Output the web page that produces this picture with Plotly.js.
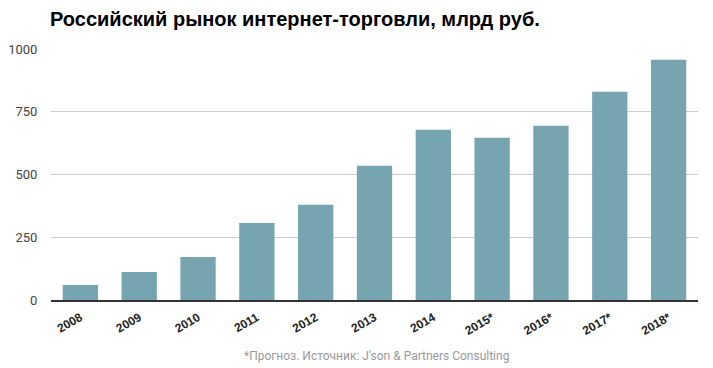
<!DOCTYPE html>
<html>
<head>
<meta charset="utf-8">
<script src="https://cdn.plot.ly/plotly-3.0.1.min.js"></script>
<style>html,body{margin:0;padding:0;background:#fff;}#chart{width:713px;height:368px;}</style>
</head>
<body>
<div id="chart"></div>
<script>
const years = ["2008","2009","2010","2011","2012","2013","2014","2015*","2016*","2017*","2018*"];
const values = [60, 112, 171, 307, 379, 535, 678, 646, 694, 830, 957];
const yTicks = [0, 250, 500, 750, 1000];
const titleText = "Российский рынок интернет-торговли, млрд руб.";
const noteText = "*Прогноз. Источник: J'son & Partners Consulting";

const data = [{
  type: "bar",
  x: years,
  y: values,
  marker: {color: "#76a5af"},
  hoverinfo: "x+y"
}];

const layout = {
  width: 713, height: 368,
  margin: {l: 51, r: 15, t: 49, b: 68},
  paper_bgcolor: "#fff", plot_bgcolor: "#fff",
  bargap: 0.4,
  showlegend: false,
  font: {family: "Liberation Sans, Arial, sans-serif"},
  title: {
    text: "<b>" + titleText + "</b>",
    font: {family: "Liberation Sans, Arial, sans-serif", size: 20, color: "#000"},
    x: 50/713, xanchor: "left", xref: "container",
    y: 1 - 19/368, yanchor: "middle", yref: "container"
  },
  xaxis: {
    type: "category",
    tickangle: -30,
    tickfont: {family: "Liberation Sans, Arial, sans-serif", size: 12, color: "#222", weight: "bold"},
    showline: true, linecolor: "#333", linewidth: 2,
    ticks: "outside", ticklen: 4, tickcolor: "rgba(0,0,0,0)",
    showgrid: false, zeroline: false,
    fixedrange: true
  },
  yaxis: {
    range: [0, 1000],
    tickvals: yTicks,
    ticktext: yTicks.map(String),
    tickfont: {family: "Roboto, Liberation Sans, sans-serif", size: 13, color: "#444"},
    gridcolor: "#cccccc", gridwidth: 1,
    zeroline: false, showline: false,
    ticks: "outside", ticklen: 10, tickcolor: "rgba(0,0,0,0)",
    fixedrange: true
  },
  annotations: [{
    text: noteText,
    xref: "paper", yref: "paper",
    x: (376-51)/647, y: -(356-300)/251,
    xanchor: "center", yanchor: "middle",
    showarrow: false,
    font: {family: "Roboto, Liberation Sans, sans-serif", size: 12, color: "#999"}
  }]
};

Plotly.newPlot("chart", data, layout, {displayModeBar: false, staticPlot: true});
</script>
</body>
</html>
